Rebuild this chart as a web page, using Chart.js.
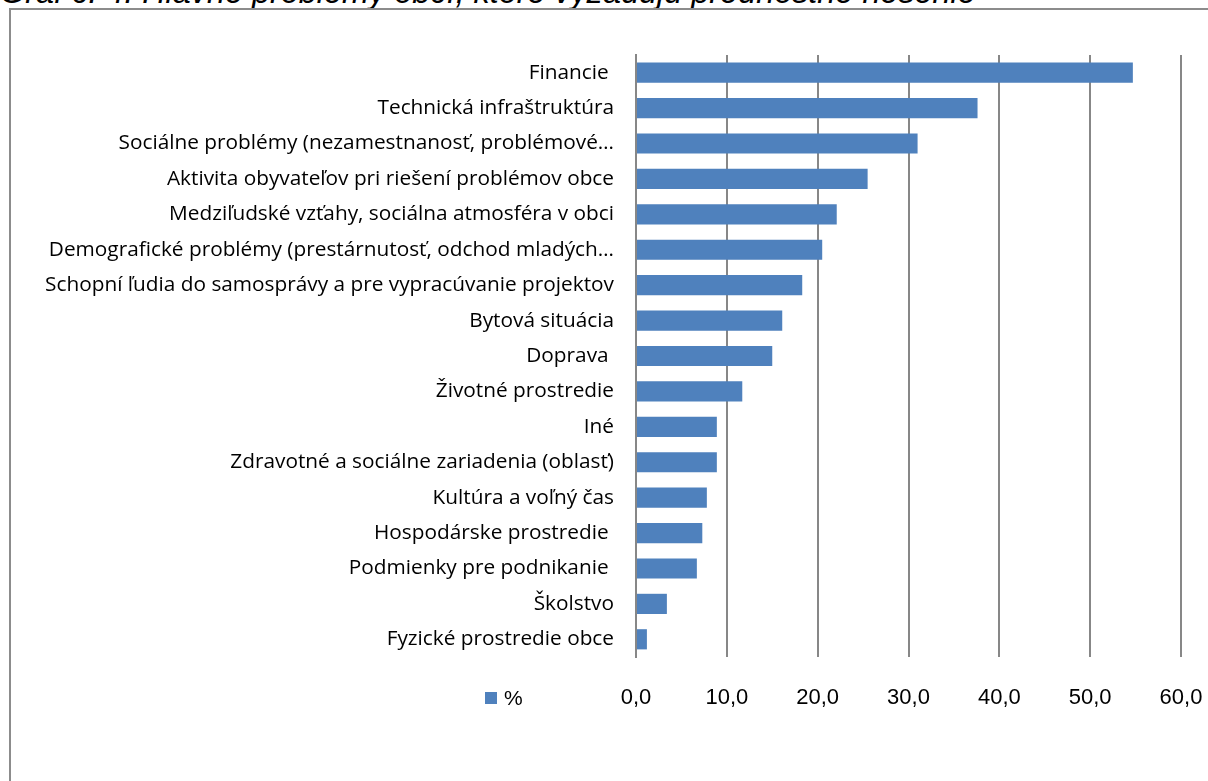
<!DOCTYPE html>
<html>
<head>
<meta charset="utf-8">
<script src="https://cdn.jsdelivr.net/npm/chart.js@4.4.1/dist/chart.umd.min.js"></script>
<style>
  html, body { margin: 0; padding: 0; background: #fff; overflow: hidden; }
  #wrap { position: relative; width: 1208px; height: 781px; overflow: hidden; background: #fff; }
  #title { position: absolute; left: 0; top: -24px; font-family: "Liberation Sans", Arial, sans-serif; font-style: italic; font-size: 32.4px; line-height: 32px; color: #000; white-space: nowrap; }
  #frame { position: absolute; left: 9px; top: 8px; width: 1300px; height: 900px; border: 2px solid #8c8c8c; box-sizing: border-box; }
  canvas { position: absolute; left: 0; top: 0; }
</style>
</head>
<body>
<div id="wrap">
  <div id="title">Graf č. 4: Hlavné problémy obcí, ktoré vyžadujú prednostné riešenie</div>
  <div id="frame"></div>
  <canvas id="c" width="1208" height="781"></canvas>
</div>
<script>
const categories = [
  "Financie ",
  "Technická infraštruktúra",
  "Sociálne problémy (nezamestnanosť, problémové…",
  "Aktivita obyvateľov pri riešení problémov obce",
  "Medziľudské vzťahy, sociálna atmosféra v obci",
  "Demografické problémy (prestárnutosť, odchod mladých…",
  "Schopní ľudia do samosprávy a pre vypracúvanie projektov",
  "Bytová situácia",
  "Doprava ",
  "Životné prostredie",
  "Iné",
  "Zdravotné a sociálne zariadenia (oblasť)",
  "Kultúra a voľný čas",
  "Hospodárske prostredie ",
  "Podmienky pre podnikanie ",
  "Školstvo",
  "Fyzické prostredie obce"
];
const percentValues = [54.7, 37.6, 31.0, 25.5, 22.1, 20.5, 18.3, 16.1, 15.0, 11.7, 8.9, 8.9, 7.8, 7.3, 6.7, 3.4, 1.2];
const seriesName = "%";
const xTicks = [0, 10, 20, 30, 40, 50, 60];

const barColor = "#4F81BD";
const gridColor = "#878787";

const legendPlugin = {
  id: "customLegend",
  afterDraw(chart) {
    const ctx = chart.ctx;
    const ds = chart.data.datasets[0];
    ctx.save();
    ctx.fillStyle = ds.backgroundColor;
    ctx.fillRect(485, 692, 12, 12);
    ctx.fillStyle = "#000";
    ctx.font = '21px "Liberation Sans", sans-serif';
    ctx.textBaseline = "middle";
    ctx.textAlign = "left";
    ctx.fillText(ds.label, 504, 699);
    ctx.restore();
  }
};

new Chart(document.getElementById("c"), {
  type: "bar",
  data: {
    labels: categories,
    datasets: [{
      label: seriesName,
      data: percentValues,
      backgroundColor: barColor,
      borderWidth: 0,
      categoryPercentage: 1.0,
      barPercentage: 0.57
    }]
  },
  options: {
    indexAxis: "y",
    responsive: false,
    animation: false,
    devicePixelRatio: 1,
    layout: { padding: { left: 0, right: 27, top: 55, bottom: 0 } },
    plugins: { legend: { display: false }, tooltip: { enabled: false }, title: { display: false } },
    scales: {
      x: {
        min: 0, max: 60,
        afterBuildTicks(scale) { scale.ticks = xTicks.map(v => ({ value: v })); },
        afterFit(scale) { scale.height = 124; scale.paddingRight = 0; scale.paddingLeft = 0; },
        grid: { display: true, color: gridColor, lineWidth: 2, drawTicks: false },
        border: { display: false },
        ticks: {
          padding: 28,
          color: "#000",
          font: { family: '"Liberation Sans", sans-serif', size: 22 },
          callback: v => Number(v).toFixed(1).replace(".", ",")
        }
      },
      y: {
        afterFit(scale) { scale.width = 636; scale.paddingTop = 0; scale.paddingBottom = 0; },
        grid: { display: false, drawTicks: false },
        border: { display: true, color: gridColor, width: 2 },
        ticks: {
          padding: 22,
          color: "#000",
          autoSkip: false,
          font: { family: '"Open Sans", sans-serif', size: 20.8 }
        }
      }
    }
  },
  plugins: [legendPlugin]
});
</script>
</body>
</html>
